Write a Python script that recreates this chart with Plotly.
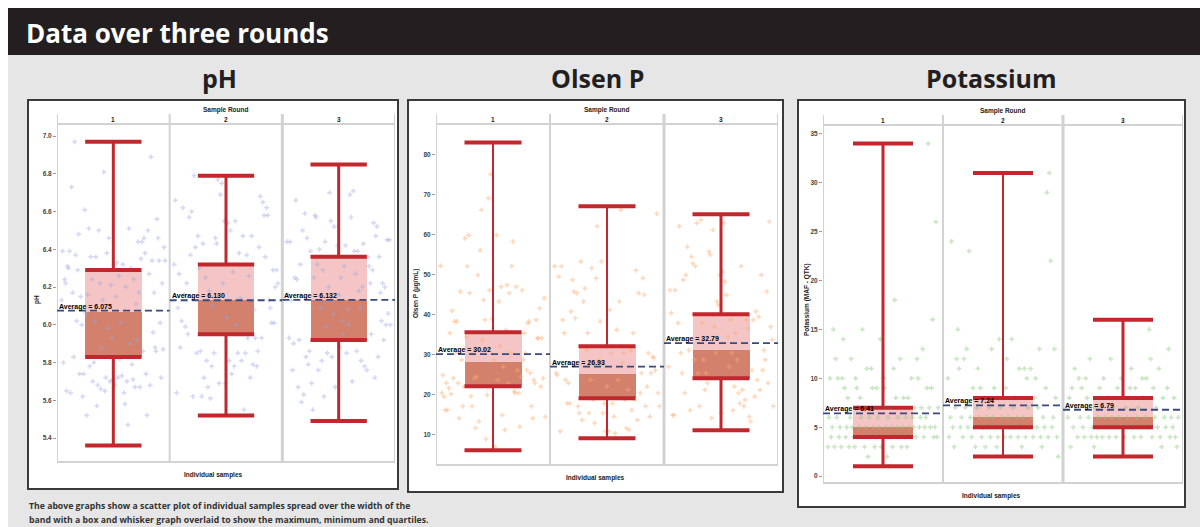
import plotly.graph_objects as go

W, H = 1200, 527

# ---------------- data ----------------
ROUNDS = ["1", "2", "3"]

# pH
PH_TICKS = [5.4, 5.6, 5.8, 6.0, 6.2, 6.4, 6.6, 6.8, 7.0]
PH_TICK_TEXT = ["5.4", "5.6", "5.8", "6.0", "6.2", "6.4", "6.6", "6.8", "7.0"]
PH_MIN = [5.36, 5.52, 5.49]
PH_Q1 = [5.83, 5.95, 5.92]
PH_MED = [6.07, 6.13, 6.13]
PH_Q3 = [6.29, 6.32, 6.36]
PH_MAX = [6.97, 6.79, 6.85]
PH_MEAN = [6.075, 6.130, 6.132]
PH_MEAN_TEXT = ["6.075", "6.130", "6.132"]
PH_R1 = [6.13, 6.39, 5.80, 6.24, 6.22, 5.65, 6.31, 6.30, 6.39, 5.64, 6.73, 6.17, 5.83, 6.97, 6.37,
         6.02, 6.29, 6.48, 5.74, 6.15, 6.00, 5.62, 5.74, 6.61, 6.06, 5.52, 6.16, 6.51, 5.78, 6.36,
         6.24, 5.70, 5.80, 6.02, 6.36, 5.57, 5.68, 6.50, 6.22, 5.66, 5.88, 6.13, 6.81, 5.65, 5.72,
         6.38, 5.98, 6.46, 5.70, 6.21, 5.93, 5.71, 6.32, 5.68, 6.15, 6.33, 5.72, 6.26, 5.82, 6.01,
         5.73, 6.32, 5.64, 5.58, 6.20, 5.70, 5.47, 6.51, 5.90, 6.30, 5.79, 5.71, 6.24, 5.67, 6.11,
         5.92, 6.44, 6.17, 5.67, 6.35, 6.44, 5.86, 6.46, 6.38, 5.74, 5.52, 6.50, 6.27, 5.68, 6.89,
         6.34, 5.96, 6.17, 5.88, 5.86, 6.56, 6.46, 6.34, 6.01, 5.72, 6.22, 5.87, 6.41, 6.34]
PH_R2 = [6.32, 6.66, 5.64, 6.09, 6.27, 5.88, 6.02, 6.62, 6.16, 5.99, 6.22, 5.95, 6.57, 6.37, 6.60,
         5.62, 6.79, 6.41, 5.85, 6.47, 6.30, 5.86, 5.62, 6.43, 5.72, 6.25, 5.81, 5.67, 6.18, 5.61,
         5.78, 6.10, 5.85, 6.46, 6.43, 6.77, 5.69, 6.69, 6.75, 6.22, 6.55, 5.69, 6.04, 6.54, 5.81,
         6.50, 5.74, 6.28, 5.78, 6.55, 6.00, 5.85, 6.38, 6.14, 5.81, 6.47, 5.55, 5.85, 6.37, 5.93,
         6.26, 5.72, 6.47, 5.79, 6.08, 5.93, 5.78, 5.86, 6.41, 6.68, 5.93, 6.65, 6.58, 6.36, 6.62,
         6.58, 6.13, 6.09, 6.01, 6.29, 6.01, 6.20, 6.29, 6.22]
PH_R3 = [6.44, 6.16, 5.93, 6.44, 6.13, 5.76, 5.90, 6.25, 6.66, 6.24, 5.67, 5.92, 6.32, 5.59, 6.50,
         5.63, 6.59, 5.83, 6.46, 5.79, 5.86, 6.39, 5.69, 5.55, 6.25, 6.58, 6.57, 6.32, 5.76, 6.40,
         6.09, 5.81, 6.29, 5.62, 6.44, 5.99, 5.85, 6.20, 6.70, 6.55, 5.83, 6.06, 6.52, 5.67, 5.49,
         6.42, 6.16, 5.88, 6.25, 6.02, 5.95, 6.31, 6.42, 5.85, 6.08, 6.00, 6.69, 6.57, 5.70, 6.71,
         6.39, 6.27, 5.86, 6.39, 6.18, 6.09, 5.81, 6.20, 6.43, 5.78, 5.92, 5.76, 6.36, 6.31, 6.22,
         5.95, 6.29, 6.54, 5.72, 6.47, 6.52, 5.83, 6.36, 6.17, 6.02, 6.22, 5.92, 6.20, 6.00, 6.45,
         6.06, 6.45, 6.00]

# Olsen P
OP_TICKS = [10, 20, 30, 40, 50, 60, 70, 80]
OP_TICK_TEXT = ["10", "20", "30", "40", "50", "60", "70", "80"]
OP_MIN = [6, 9, 11]
OP_Q1 = [22, 19, 24]
OP_MED = [28, 25, 31]
OP_Q3 = [35.5, 32, 40]
OP_MAX = [83, 67, 65]
OP_MEAN = [30.02, 26.93, 32.79]
OP_MEAN_TEXT = ["30.02", "26.93", "32.79"]
OP_R1 = [52.1, 20.3, 24.8, 19.4, 16.1, 22.8, 16.0, 21.5, 35.3, 20.1, 40.9, 24.0, 38.2, 30.3, 38.2,
         22.8, 14.0, 45.7, 28.6, 17.0, 21.9, 59.0, 34.4, 52.0, 59.8, 45.3, 19.5, 17.0, 30.3, 24.0,
         11.5, 24.4, 49.8, 13.2, 56.0, 66.1, 33.6, 43.6, 38.6, 8.8, 19.8, 69.0, 46.0, 75.0, 38.9,
         6.1, 28.6, 6.9, 59.8, 23.6, 43.2, 32.0, 46.9, 14.8, 26.9, 11.1, 36.1, 47.3, 22.8, 45.3,
         30.3, 52.0, 58.2, 20.7, 20.3, 46.9, 26.0, 20.3, 11.9, 24.4, 46.0, 28.6, 35.3, 30.3, 26.0,
         37.8, 38.2, 25.3, 17.0, 14.0, 23.6, 22.8, 38.6, 34.0, 34.0, 41.5, 21.9, 34.0, 24.0, 44.0,
         14.4]
OP_R2 = [52.0, 25.3, 24.8, 49.4, 10.7, 52.0, 38.6, 35.3, 23.6, 17.7, 22.8, 17.7, 40.7, 48.6, 45.7,
         39.0, 45.3, 17.0, 15.3, 53.2, 13.6, 43.2, 46.5, 31.0, 35.3, 15.3, 23.6, 51.5, 18.6, 12.8,
         49.0, 62.0, 28.6, 38.2, 53.2, 15.3, 17.7, 10.7, 21.9, 10.7, 41.1, 30.3, 17.7, 14.4, 10.2,
         36.1, 23.6, 43.2, 66.1, 27.8, 30.3, 18.6, 11.5, 21.1, 11.1, 31.0, 16.0, 35.3, 18.6, 51.0,
         13.6, 45.3, 20.3, 25.3, 49.0, 44.9, 17.0, 21.9, 30.3, 14.4, 25.3, 29.4, 29.0, 26.0, 65.2,
         20.3, 17.0]
OP_R3 = [26.9, 46.0, 40.3, 14.8, 14.8, 46.0, 33.6, 37.8, 62.0, 30.3, 25.3, 48.6, 20.3, 49.8, 56.9,
         31.0, 16.0, 54.4, 52.7, 28.6, 52.0, 62.8, 25.3, 17.0, 63.6, 37.8, 28.6, 21.1, 25.3, 22.8,
         55.7, 54.9, 14.0, 61.1, 36.9, 30.3, 43.2, 42.3, 49.8, 15.3, 50.6, 62.8, 48.2, 44.8, 34.4,
         26.9, 38.6, 30.3, 16.0, 21.9, 35.3, 28.6, 20.3, 17.7, 52.0, 21.1, 17.0, 18.6, 38.6, 36.5,
         14.4, 13.2, 26.0, 38.6, 19.4, 40.7, 23.6, 39.4, 21.1, 49.8, 26.0, 31.0, 28.6, 45.7, 22.8,
         63.2, 36.9, 33.6, 17.0]

# Potassium
K_TICKS = [0, 5, 10, 15, 20, 25, 30, 35]
K_TICK_TEXT = ["0", "5", "10", "15", "20", "25", "30", "35"]
K_MIN = [1, 2, 2]
K_Q1 = [4, 5, 5]
K_MED = [5, 6, 6]
K_Q3 = [7, 8, 8]
K_MAX = [34, 31, 16]
K_MEAN = [6.41, 7.24, 6.79]
K_MEAN_TEXT = ["6.41", "7.24", "6.79"]
K_R1 = [3, 6, 10, 4, 5, 15, 3, 12, 6, 10, 4, 5, 3, 10, 14, 9, 4, 5, 8, 3, 6, 12, 5, 4, 3, 10, 9, 7,
        5, 8, 6, 15, 4, 3, 5, 11, 2, 6, 4, 11, 9, 5, 3, 4, 9, 6, 5, 14, 3, 4, 10, 9, 5, 2, 6, 1, 4,
        5, 3, 11, 18, 8, 5, 6, 4, 12, 3, 5, 8, 4, 6, 3, 8, 5, 4, 10, 6, 5, 7, 4, 12, 10, 5, 6, 7, 13,
        4, 5, 6, 9, 34, 7, 5, 9, 16, 4, 5, 26, 4, 7]
K_R2 = [10, 4, 6, 24, 5, 3, 7, 12, 15, 11, 5, 6, 4, 12, 7, 13, 5, 23, 6, 4, 9, 5, 3, 7, 11, 6, 9, 4,
        5, 8, 3, 6, 5, 7, 4, 13, 6, 9, 5, 3, 4, 14, 7, 6, 5, 4, 9, 12, 6, 5, 4, 14, 7, 5, 8, 6, 4, 11,
        5, 3, 6, 11, 4, 10, 7, 5, 11, 6, 4, 8, 10, 5, 7, 13, 4, 3, 6, 5, 9, 29, 4, 31, 22, 5, 6, 13,
        8, 4, 2]
K_R3 = [6, 8, 3, 9, 5, 11, 7, 4, 10, 6, 9, 5, 4, 10, 8, 6, 12, 4, 5, 3, 7, 4, 6, 9, 5, 4, 10, 6, 5,
        8, 4, 12, 6, 7, 5, 4, 9, 6, 2, 10, 5, 4, 7, 6, 8, 9, 11, 5, 4, 9, 6, 7, 5, 4, 10, 8, 6, 10, 5,
        15, 12, 4, 9, 6, 7, 5, 11, 4, 3, 8, 6, 5, 9, 13, 4, 6, 5, 8, 4, 3, 6]

# ---------------- styling ----------------
RED = "#c1272d"
NAVY = "#3b4a7c"
GRID = "#d2d2d2"
BOX_LIGHT = "rgba(236,140,140,0.5)"
BOX_DARK = "rgba(190,70,40,0.68)"
SMALL = "Liberation Sans, Arial, sans-serif"
HEAD = "Open Sans, Noto Sans, sans-serif"


def px(x):
    return x / W


def py(y):
    return 1 - y / H


panels = [
    dict(title="pH", ytitle="pH", frame=(28, 100, 398, 489), plot=(57, 124, 395, 462),
         yrange=[5.273, 7.064], ticks=PH_TICKS, ticktext=PH_TICK_TEXT,
         rounds=[PH_R1, PH_R2, PH_R3], lo=PH_MIN, q1=PH_Q1, med=PH_MED, q3=PH_Q3, hi=PH_MAX,
         mean=PH_MEAN, mean_text=PH_MEAN_TEXT, pt="rgba(150,168,225,0.42)",
         stem_w=[3, 3, 3], title_x=219, ytitle_x=37, ytitle_y=300),
    dict(title="Olsen P", ytitle="Olsen P (µg/mL)", frame=(408, 100, 783, 492), plot=(436, 124, 778, 465),
         yrange=[2.3, 87.6], ticks=OP_TICKS, ticktext=OP_TICK_TEXT,
         rounds=[OP_R1, OP_R2, OP_R3], lo=OP_MIN, q1=OP_Q1, med=OP_MED, q3=OP_Q3, hi=OP_MAX,
         mean=OP_MEAN, mean_text=OP_MEAN_TEXT, pt="rgba(252,170,110,0.45)",
         stem_w=[2, 2, 3], title_x=597, ytitle_x=416, ytitle_y=293),
    dict(title="Potassium", ytitle="Potassium (MAF - QTK)", frame=(798, 100, 1185, 507), plot=(823, 125, 1183, 483),
         yrange=[-0.7, 35.9], ticks=K_TICKS, ticktext=K_TICK_TEXT,
         rounds=[K_R1, K_R2, K_R3], lo=K_MIN, q1=K_Q1, med=K_MED, q3=K_Q3, hi=K_MAX,
         mean=K_MEAN, mean_text=K_MEAN_TEXT, pt="rgba(140,200,125,0.45)",
         stem_w=[3, 2, 3], title_x=991, ytitle_x=807, ytitle_y=300),
]

fig = go.Figure()
shapes = []
annotations = []
layout_axes = {}

# page background and header band
shapes.append(dict(type="rect", xref="paper", yref="paper", x0=px(8), x1=1, y0=0, y1=py(55),
                   fillcolor="#e6e6e6", line=dict(width=0), layer="below"))
shapes.append(dict(type="rect", xref="paper", yref="paper", x0=px(8), x1=1, y0=py(55), y1=py(8),
                   fillcolor="#231f20", line=dict(width=0), layer="below"))
annotations.append(dict(xref="paper", yref="paper", x=px(24), y=py(33), xanchor="left", yanchor="middle",
                        text="<b>Data over three rounds</b>", showarrow=False,
                        font=dict(family=HEAD, size=26, color="white")))

for i, p in enumerate(panels):
    n = "" if i == 0 else str(i + 1)
    xa, ya = "x" + n, "y" + n
    fx0, fy0, fx1, fy1 = p["frame"]
    x0, y0, x1, y1 = p["plot"]
    plot_h = y1 - y0

    # panel frame
    shapes.append(dict(type="rect", xref="paper", yref="paper", x0=px(fx0), x1=px(fx1),
                       y0=py(fy1), y1=py(fy0), fillcolor="white",
                       line=dict(color="#3a3a3a", width=2), layer="below"))

    layout_axes["xaxis" + n] = dict(domain=[px(x0), px(x1)], range=[0, 3], anchor=ya,
                                    showgrid=False, zeroline=False, showticklabels=False,
                                    ticks="", showline=False, fixedrange=True)
    layout_axes["yaxis" + n] = dict(domain=[py(y1), py(y0)], range=p["yrange"], anchor=xa,
                                    tickvals=p["ticks"], ticktext=["<b>%s</b>" % t for t in p["ticktext"]],
                                    ticks="outside", ticklen=3, tickcolor="#999", tickwidth=1,
                                    tickfont=dict(family=SMALL, size=6.5, color="#444"),
                                    showgrid=False, zeroline=False, showline=False, fixedrange=True)

    # facet borders: strip extends above the plot area
    top_ext = 1 + 10 / plot_h
    for k in range(4):
        shapes.append(dict(type="line", xref=xa, yref=ya + " domain", x0=k, x1=k, y0=0, y1=top_ext,
                           line=dict(color=GRID, width=3 if k == 2 else 2), layer="below"))
    for yy in (0, 1):
        shapes.append(dict(type="line", xref=xa, yref=ya + " domain", x0=0, x1=3, y0=yy, y1=yy,
                           line=dict(color=GRID, width=2), layer="below"))

    # strip labels
    annotations.append(dict(xref=xa, yref=ya + " domain", x=1.5, y=1 + 14 / plot_h,
                            xanchor="center", yanchor="middle",
                            text="<b>Sample Round</b>", showarrow=False,
                            font=dict(family=SMALL, size=6.5, color="#222")))
    for k, r in enumerate(ROUNDS):
        annotations.append(dict(xref=xa, yref=ya + " domain", x=k + 0.5, y=1 + 5 / plot_h,
                                xanchor="center", yanchor="middle", text="<b>%s</b>" % r,
                                showarrow=False, font=dict(family=SMALL, size=6.5, color="#222")))

    # titles
    annotations.append(dict(xref="paper", yref="paper", x=px(p["title_x"]), y=py(78),
                            xanchor="center", yanchor="middle",
                            text="<b>%s</b>" % p["title"], showarrow=False,
                            font=dict(family=HEAD, size=25, color="#231f20")))
    annotations.append(dict(xref="paper", yref="paper", x=px(p["ytitle_x"]), y=py(p["ytitle_y"]),
                            xanchor="center", yanchor="middle", textangle=-90,
                            text="<b>%s</b>" % p["ytitle"], showarrow=False,
                            font=dict(family=SMALL, size=6.5, color="#222")))
    annotations.append(dict(xref="paper", yref="paper", x=px((fx0 + fx1) / 2), y=py(y1 + 13),
                            xanchor="center", yanchor="middle", text="<b>Individual samples</b>",
                            showarrow=False, font=dict(family=SMALL, size=6.5, color="#222")))

    # individual samples spread across each round's band
    for k, vals in enumerate(p["rounds"]):
        m = len(vals)
        xs = [k + 0.04 + 0.92 * j / (m - 1) for j in range(m)]
        fig.add_trace(go.Scatter(x=xs, y=vals, mode="markers", xaxis=xa, yaxis=ya,
                                 marker=dict(symbol="cross", size=4, color=p["pt"],
                                             line=dict(width=0)),
                                 hoverinfo="skip", showlegend=False))

    centers = [0.5, 1.5, 2.5]
    # boxes: lower quartile to median, median to upper quartile
    fig.add_trace(go.Bar(x=centers, base=p["q1"], y=[m - q for m, q in zip(p["med"], p["q1"])],
                         width=0.5, xaxis=xa, yaxis=ya, marker=dict(color=BOX_DARK, line=dict(width=0)),
                         showlegend=False, hoverinfo="skip"))
    fig.add_trace(go.Bar(x=centers, base=p["med"], y=[q - m for q, m in zip(p["q3"], p["med"])],
                         width=0.5, xaxis=xa, yaxis=ya, marker=dict(color=BOX_LIGHT, line=dict(width=0)),
                         showlegend=False, hoverinfo="skip"))

    # whisker stems, one trace per round
    for c, lo, q1, q3, hi, sw in zip(centers, p["lo"], p["q1"], p["q3"], p["hi"], p["stem_w"]):
        fig.add_trace(go.Scatter(x=[c, c, None, c, c], y=[q3, hi, None, lo, q1], mode="lines",
                                 xaxis=xa, yaxis=ya, line=dict(color=RED, width=sw),
                                 hoverinfo="skip", showlegend=False))
    # caps and quartile edges
    cx, cy = [], []
    for c, lo, q1, q3, hi in zip(centers, p["lo"], p["q1"], p["q3"], p["hi"]):
        for v in (lo, q1, q3, hi):
            cx += [c - 0.25, c + 0.25, None]
            cy += [v, v, None]
    fig.add_trace(go.Scatter(x=cx, y=cy, mode="lines", xaxis=xa, yaxis=ya,
                             line=dict(color=RED, width=4), hoverinfo="skip", showlegend=False))

    # averages
    mx, my = [], []
    for k, mv in enumerate(p["mean"]):
        mx += [k, k + 1, None]
        my += [mv, mv, None]
        annotations.append(dict(xref=xa, yref=ya, x=k, y=mv, xanchor="left", yanchor="bottom",
                                yshift=-2, text="<b>Average = %s</b>" % p["mean_text"][k],
                                showarrow=False, font=dict(family=SMALL, size=7, color="black")))
    fig.add_trace(go.Scatter(x=mx, y=my, mode="lines", xaxis=xa, yaxis=ya,
                             line=dict(color=NAVY, width=1.8, dash="7px,4px"),
                             hoverinfo="skip", showlegend=False))

# footnote
for txt, yy in [("The above graphs show a scatter plot of individual samples spread over the width of the", 506),
                ("band with a box and whisker graph overlaid to show the maximum, minimum and quartiles.", 520)]:
    annotations.append(dict(xref="paper", yref="paper", x=px(27), y=py(yy), xanchor="left",
                            yanchor="middle", text="<b>%s</b>" % txt, showarrow=False,
                            font=dict(family=HEAD, size=8.7, color="#333")))

fig.update_layout(width=W, height=H, margin=dict(l=0, r=0, t=0, b=0),
                  paper_bgcolor="white", plot_bgcolor="rgba(0,0,0,0)",
                  barmode="overlay", bargap=0, showlegend=False,
                  shapes=shapes, annotations=annotations, **layout_axes)

fig.write_html("out.html", config={"displayModeBar": False})
